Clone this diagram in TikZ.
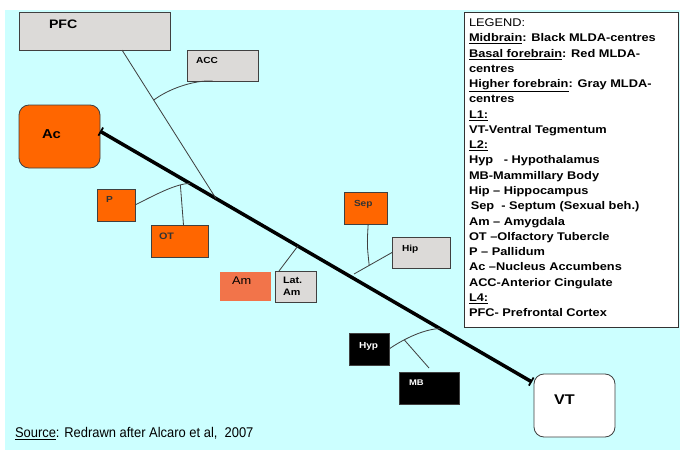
\documentclass[tikz,border=0pt]{standalone}
\usepackage{fontspec}
\setmainfont{Liberation Sans}[FakeStretch=1.15]
\newfontfamily\srcfont{Liberation Sans}[FakeStretch=0.92]
\usepackage{tikz}
\usetikzlibrary{positioning,arrows.meta,calc}

\definecolor{bgcyan}{HTML}{CCFFFF}
\definecolor{boxgray}{HTML}{DCDAD8}
\definecolor{basalorange}{HTML}{FF6600}
\definecolor{amorange}{HTML}{F2744A}
\definecolor{linkgray}{HTML}{404040}

\begin{document}
\begin{tikzpicture}[
    x=0.03cm, y=-0.03cm,
    every node/.style={inner sep=0pt, outer sep=0pt},
    centre/.style={draw=black!75, line width=0.7pt, anchor=north west},
    midbrain/.style={centre, fill=black},
    basal/.style={centre, fill=basalorange},
    higher/.style={centre, fill=boxgray},
    lbl/.style={anchor=base west, font=\bfseries\fontsize{7.5}{9}\selectfont},
    link/.style={draw=linkgray, line width=0.7pt},
    pathway/.style={draw=black, line width=3pt, {Bar[width=8pt,line width=1.5pt]}-{Bar[width=8pt,line width=1.5pt]}}
]
\useasboundingbox (0,0) rectangle (680,450);
\fill[bgcyan] (5,10) rectangle (680,450);

% higher forebrain (gray)
\node[higher, minimum width=4.53cm, minimum height=1.14cm] (pfc) at (19,12) {};
\node[lbl, font=\bfseries\fontsize{10.5}{12}\selectfont] (pfc-t) at (49,28.3) {PFC};
\node[higher, minimum width=2.13cm, minimum height=0.93cm] (acc) at (187,50) {};
\node[lbl] (acc-t) at (196,63.3) {ACC};
\node[higher, minimum width=1.23cm, minimum height=0.93cm] (lat) at (275,271) {};
\node[lbl, anchor=north west, align=left, font=\bfseries\fontsize{8}{10}\selectfont] (lat-t) at (283,277) {Lat.\\Am};
\node[higher, minimum width=1.74cm, minimum height=0.93cm] (hip) at (392,237) {};
\node[lbl] (hip-t) at (402,251.7) {Hip};

% basal forebrain (red)
\node[basal, rounded corners=0.3cm, minimum width=2.43cm, minimum height=1.89cm] (ac) at (19,105) {};
\node[lbl, font=\bfseries\fontsize{11}{13}\selectfont] (ac-t) at (42,138.3) {Ac};
\node[basal, minimum width=1.14cm, minimum height=0.96cm] (p) at (97,189) {};
\node[lbl, text=black!80] (p-t) at (106,202.7) {P};
\node[basal, minimum width=1.71cm, minimum height=0.96cm] (ot) at (151,225) {};
\node[lbl, font=\bfseries\fontsize{8}{9}\selectfont, text=black!80] (ot-t) at (159,239.3) {OT};
\node[anchor=north west, fill=amorange, minimum width=1.53cm, minimum height=0.87cm] (am) at (220,272) {};
\node[anchor=base west, font=\fontsize{9.5}{11}\selectfont] (am-t) at (232,284.3) {Am};
\node[basal, minimum width=1.29cm, minimum height=0.96cm] (sep) at (344,192) {};
\node[lbl, text=black!80] (sep-t) at (354,206) {Sep};

% midbrain (black)
\node[midbrain, minimum width=1.2cm, minimum height=0.96cm] (hyp) at (349,333) {};
\node[lbl, text=white] (hyp-t) at (359,348.3) {Hyp};
\node[midbrain, minimum width=1.8cm, minimum height=0.96cm] (mb) at (399,372) {};
\node[lbl, text=white, font=\bfseries\fontsize{7}{8}\selectfont] (mb-t) at (409,385) {MB};
\node[centre, fill=white, rounded corners=0.3cm, minimum width=2.43cm, minimum height=1.89cm] (vt) at (534,374) {};
\node[lbl, font=\bfseries\fontsize{12}{14}\selectfont] (vt-t) at (554,404) {VT};

% main pathway VT - Ac
\draw[pathway] ([yshift=0.16cm]ac.east) -- ([xshift=-0.06cm,yshift=-0.24cm]vt.north west)
    coordinate[pos=0.2685] (pfc-j) coordinate[pos=0.208] (pot-j)
    coordinate[pos=0.458] (lat-j) coordinate[pos=0.787] (hyp-j);
\coordinate (hip-j) at (354,274);

% branches
\draw[link] ([xshift=3.09cm]pfc.south west) -- (pfc-j) coordinate[pos=0.337] (acc-j);
\draw[link] (acc-j) .. controls (170,88) and (195,80) .. ([xshift=-0.3cm]acc.south);
\draw[link] (p.east) .. controls (155,195) and (175,184) .. (pot-j) coordinate[pos=0.8] (ot-j);
\draw[link] ([xshift=0.12cm]ot.north) .. controls (181,205) .. (ot-j);
\draw[link] ([xshift=0.12cm]lat.north west) -- (lat-j);
\draw[link] (hip-j) -- (hip.west) coordinate[pos=0.4] (sep-j);
\draw[link] ([xshift=0.08cm]sep.south) .. controls (367,245) .. (sep-j);
\draw[link] (hyp.east) .. controls (405,338) and (425,329) .. (hyp-j) coordinate[pos=0.3] (mb-j);
\draw[link] (mb-j) -- ([yshift=0.12cm]mb.north);

% legend
\node[draw=black!80, line width=0.8pt, fill=white, anchor=north west, minimum width=6.42cm, minimum height=9.45cm] (legend) at (464,12) {};
\node[anchor=north west, align=left, font=\fontsize{9.5}{13.04}\selectfont] (legend-t) at (469,18.7) {%
LEGEND:\\
\textbf{\underline{Midbrain}: Black MLDA-centres}\\
\textbf{\underline{Basal forebrain}: Red MLDA-}\\
\textbf{centres}\\
\textbf{\underline{Higher forebrain}: Gray MLDA-}\\
\textbf{centres}\\
\textbf{\underline{L1:}}\\
\textbf{VT-Ventral Tegmentum}\\
\textbf{\underline{L2:}}\\
\textbf{Hyp\ \ \ - Hypothalamus}\\
\textbf{MB-Mammillary Body}\\
\textbf{Hip – Hippocampus}\\
\textbf{\hspace{1.5pt}Sep\ \ - Septum (Sexual beh.)}\\
\textbf{Am – Amygdala}\\
\textbf{OT –Olfactory Tubercle}\\
\textbf{P – Pallidum}\\
\textbf{Ac –Nucleus Accumbens}\\
\textbf{ACC-Anterior Cingulate}\\
\textbf{\underline{L4:}}\\
\textbf{PFC- Prefrontal Cortex}};

% source
\node[anchor=base west, font=\srcfont\fontsize{12}{14}\selectfont] (source) at (15,437) {\underline{Source}: Redrawn after Alcaro et al,\ \ 2007};
\end{tikzpicture}
\end{document}
